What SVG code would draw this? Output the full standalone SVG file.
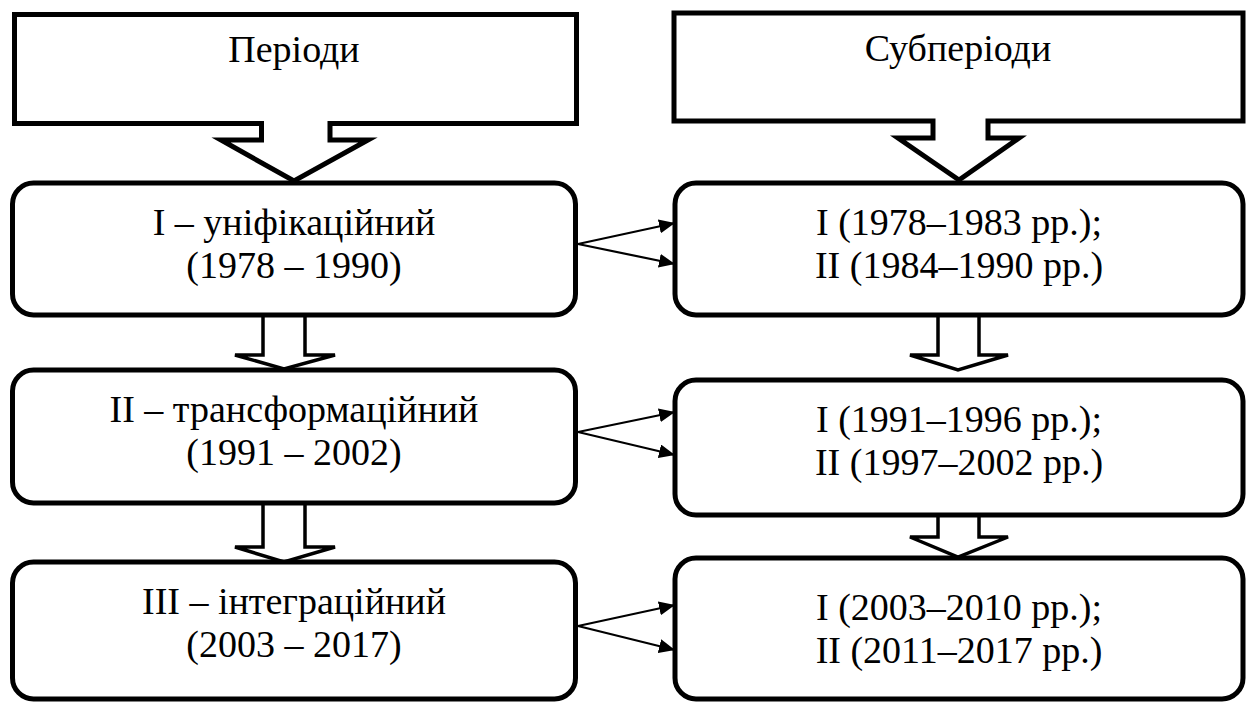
<svg xmlns="http://www.w3.org/2000/svg" width="1251" height="702" viewBox="0 0 1251 702">
<style>
text{font-family:"Liberation Serif","Times New Roman",serif;font-size:38px;fill:#000;text-anchor:middle}
.node{fill:#fff;stroke:#000;stroke-width:5}
.callout{fill:#fff;stroke:#000;stroke-width:5;stroke-linejoin:miter}
.block{fill:#fff;stroke:#000;stroke-width:3.5;stroke-linejoin:miter}
.thin{fill:none;stroke:#000;stroke-width:2.2}
</style>
<defs>
<marker id="ah" markerUnits="userSpaceOnUse" markerWidth="16" markerHeight="14" refX="16" refY="7" orient="auto">
<path d="M0,0 L16,7 L0,14 Z" fill="#000"/>
</marker>
</defs>
<rect width="1251" height="702" fill="#fff"/>
<g id="connectors">
<path class="block" d="M263,316 V355 H235 L284,369 L335,355 H305 V316"/>
<path class="block" d="M263,504 V547 H235 L284,562 L335,547 H305 V504"/>
<path class="block" d="M938,315 V355 H910 L958,370 L1008,355 H979 V315"/>
<path class="block" d="M938,515 V537 H910 L958,557 L1008,537 H979 V515"/>
<line class="thin" x1="578" y1="244" x2="675" y2="223" marker-end="url(#ah)"/>
<line class="thin" x1="578" y1="244" x2="675" y2="264" marker-end="url(#ah)"/>
<line class="thin" x1="578" y1="432" x2="675" y2="412" marker-end="url(#ah)"/>
<line class="thin" x1="578" y1="432" x2="675" y2="455" marker-end="url(#ah)"/>
<line class="thin" x1="578" y1="626" x2="675" y2="605" marker-end="url(#ah)"/>
<line class="thin" x1="578" y1="626" x2="675" y2="650" marker-end="url(#ah)"/>
</g>
<g id="callout-periods">
<path class="callout" d="M14.5,14.5 H576.5 V123.5 H330 V140 H368 L294,181 L221,140 H261.5 V123.5 H14.5 Z"/>
<text x="294" y="62">Періоди</text>
</g>
<g id="callout-subperiods">
<path class="callout" d="M674,13 H1243 V121 H988 V138 H1019 L959,180 L898,138 H933 V121 H674 Z"/>
<text x="958" y="61">Субперіоди</text>
</g>
<g id="period-1">
<rect class="node" x="12.5" y="183" width="563" height="132" rx="21"/>
<text x="294" y="235">I – уніфікаційний</text>
<text x="294" y="278">(1978 – 1990)</text>
</g>
<g id="period-2">
<rect class="node" x="12.5" y="370" width="563" height="133" rx="21"/>
<text x="294" y="422">II – трансформаційний</text>
<text x="294" y="465">(1991 – 2002)</text>
</g>
<g id="period-3">
<rect class="node" x="12.5" y="562" width="563" height="137" rx="21"/>
<text x="294" y="614">III – інтеграційний</text>
<text x="294" y="657">(2003 – 2017)</text>
</g>
<g id="sub-1">
<rect class="node" x="675" y="183" width="568" height="132" rx="21"/>
<text x="959" y="235">I (1978–1983 рр.);</text>
<text x="959" y="278">II (1984–1990 рр.)</text>
</g>
<g id="sub-2">
<rect class="node" x="675" y="380" width="568" height="135" rx="21"/>
<text x="959" y="432">I (1991–1996 рр.);</text>
<text x="959" y="475">II (1997–2002 рр.)</text>
</g>
<g id="sub-3">
<rect class="node" x="675" y="558" width="568" height="141" rx="21"/>
<text x="959" y="620">I (2003–2010 рр.);</text>
<text x="959" y="663">II (2011–2017 рр.)</text>
</g>
</svg>
